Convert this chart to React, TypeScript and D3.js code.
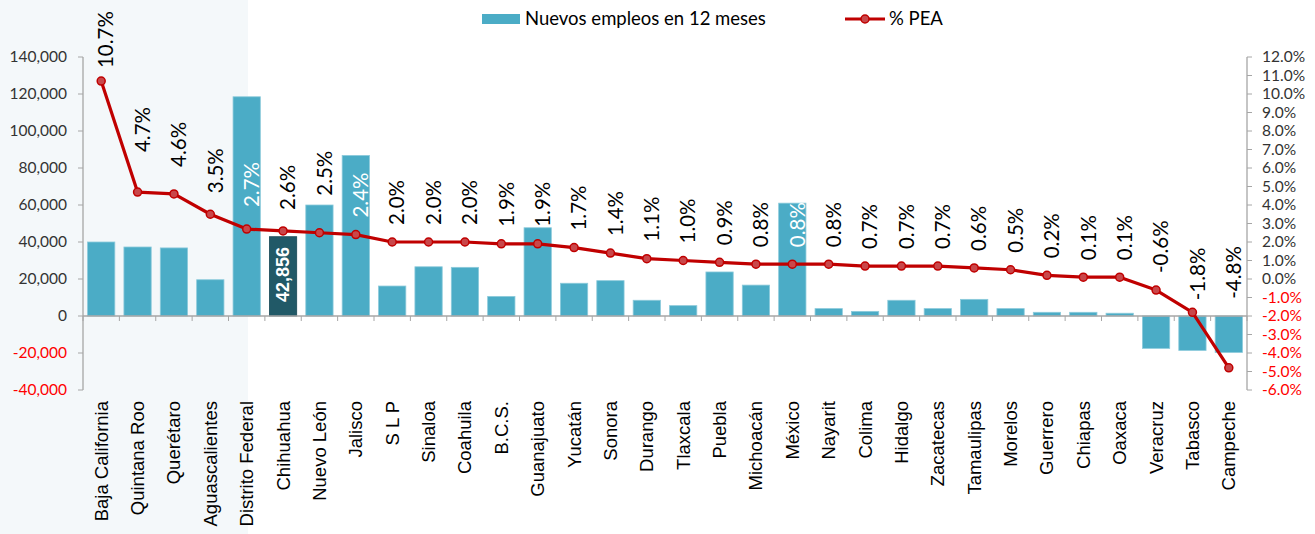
import React from "react";
import * as d3 from "d3";

const categories = [
  "Baja California", "Quintana Roo", "Querétaro", "Aguascalientes", "Distrito Federal",
  "Chihuahua", "Nuevo León", "Jalisco", "S L P", "Sinaloa", "Coahuila", "B.C.S.",
  "Guanajuato", "Yucatán", "Sonora", "Durango", "Tlaxcala", "Puebla", "Michoacán",
  "México", "Nayarit", "Colima", "Hidalgo", "Zacatecas", "Tamaulipas", "Morelos",
  "Guerrero", "Chiapas", "Oaxaca", "Veracruz", "Tabasco", "Campeche"
];

// Nuevos empleos en 12 meses
const empleos = [
  40000, 37300, 36800, 19600, 118500, 42856, 60000, 86800, 16200, 26600, 26300, 10600,
  47700, 17700, 19100, 8500, 5600, 23800, 16700, 61000, 4000, 2500, 8500, 4000,
  9000, 4000, 2000, 2000, 1500, -17500, -18600, -19700
];

// % PEA
const pea = [
  10.7, 4.7, 4.6, 3.5, 2.7, 2.6, 2.5, 2.4, 2.0, 2.0, 2.0, 1.9, 1.9, 1.7, 1.4, 1.1,
  1.0, 0.9, 0.8, 0.8, 0.8, 0.7, 0.7, 0.7, 0.6, 0.5, 0.2, 0.1, 0.1, -0.6, -1.8, -4.8
];

const leftTicks = [-40000, -20000, 0, 20000, 40000, 60000, 80000, 100000, 120000, 140000];
const rightTicks = [-6, -5, -4, -3, -2, -1, 0, 1, 2, 3, 4, 5, 6, 7, 8, 9, 10, 11, 12];
const seriesNames = ["Nuevos empleos en 12 meses", "% PEA"];
const highlighted = "Chihuahua";

// extra lift for a few labels that were nudged by hand in the original
const labelLift: Record<string, number> = {
  "Baja California": -4,
  "Quintana Roo": 23,
  "Querétaro": 10,
  "Aguascalientes": 4,
  "Distrito Federal": 5,
  "Chihuahua": 4,
  "Nuevo León": 20,
  "Tabasco": -5,
  "Campeche": 52
};

const W = 1315;
const H = 534;
const barColor = "#4bacc6";
const darkBar = "#215967";
const lineColor = "#c00000";
const axisColor = "#a6a6a6";
const labelFont = "Lato, 'Open Sans', sans-serif";
const catFont = "'Liberation Sans', Arial, sans-serif";

const loc = d3.formatLocale({
  decimal: ".",
  thousands: ",",
  grouping: [3],
  currency: ["$", ""],
  minus: "-"
});
const fmtNum = loc.format(",");
const fmtPct = (v: number) => loc.format(".1f")(v) + "%";

export default function App() {
  const x = d3
    .scaleBand<string>()
    .domain(categories)
    .range([83, 1247])
    .paddingInner(0.25)
    .paddingOuter(0.125);
  const yL = d3.scaleLinear().domain([-40000, 140000]).range([390, 57]);
  const yR = d3.scaleLinear().domain([-6, 12]).range([390, 57]);
  const cx = (c: string) => (x(c) as number) + x.bandwidth() / 2;

  const line = d3
    .line<number>()
    .x((_, i) => cx(categories[i]))
    .y(d => yR(d));

  const step = x.step();
  const boundaries = d3.range(categories.length + 1).map(i => 83 + i * step);

  return (
    <svg
      width={W}
      height={H}
      style={{ position: "absolute", left: 0, top: 0, display: "block", background: "#fff" }}
    >
      <rect x={0} y={0} width={248} height={H} fill="#f4f8fa" />

      {/* bars */}
      {categories.map((c, i) => {
        const v = empleos[i];
        const y0 = yL(0);
        const y1 = yL(v);
        return (
          <rect
            key={c}
            x={x(c)}
            y={Math.min(y0, y1)}
            width={x.bandwidth()}
            height={Math.abs(y1 - y0)}
            fill={c === highlighted ? darkBar : barColor}
            stroke={c === highlighted ? "#1a4a56" : "#8ccadb"}
            strokeWidth={0.8}
          />
        );
      })}

      {/* value inside highlighted bar */}
      {categories.map((c, i) =>
        c === highlighted ? (
          <text
            key={"v" + c}
            transform={`translate(${cx(c)},${yL(0) - 14}) rotate(-90)`}
            dy="0.35em"
            fill="#fff"
            fontWeight="bold"
            fontSize={18}
            fontFamily={catFont}
          >
            {fmtNum(empleos[i])}
          </text>
        ) : null
      )}

      {/* zero line and x ticks */}
      <line x1={83} x2={1247} y1={yL(0)} y2={yL(0)} stroke={axisColor} strokeWidth={1.3} />
      {boundaries.map((b, i) => (
        <line key={"xt" + i} x1={b} x2={b} y1={yL(0)} y2={yL(0) + 5} stroke={axisColor} />
      ))}

      {/* left axis */}
      <line x1={83} x2={83} y1={57} y2={390} stroke={axisColor} strokeWidth={1.3} />
      {leftTicks.map(t => (
        <g key={"lt" + t}>
          <line x1={78} x2={83} y1={yL(t)} y2={yL(t)} stroke={axisColor} />
          <text
            x={67}
            y={yL(t)}
            dy="0.35em"
            textAnchor="end"
            fontSize={15.5}
            fontFamily={labelFont}
            fill={t < 0 ? "#ff0000" : "#333"}
          >
            {fmtNum(t)}
          </text>
        </g>
      ))}

      {/* right axis */}
      <line x1={1247} x2={1247} y1={57} y2={390} stroke={axisColor} strokeWidth={1.3} />
      {rightTicks.map(t => (
        <g key={"rt" + t}>
          <line x1={1247} x2={1252} y1={yR(t)} y2={yR(t)} stroke={axisColor} />
          <text
            x={1262}
            y={yR(t)}
            dy="0.35em"
            fontSize={15.5}
            fontFamily={labelFont}
            fill={t < 0 ? "#ff0000" : "#333"}
          >
            {fmtPct(t)}
          </text>
        </g>
      ))}

      {/* PEA line */}
      <path d={line(pea) || ""} fill="none" stroke={lineColor} strokeWidth={3.2} strokeLinejoin="round" />
      {pea.map((v, i) => (
        <circle
          key={"m" + i}
          cx={cx(categories[i])}
          cy={yR(v)}
          r={4}
          fill="#c9474a"
          stroke={lineColor}
          strokeWidth={1.5}
        />
      ))}

      {/* PEA labels */}
      {pea.map((v, i) => {
        const c = categories[i];
        const start = yR(v) - 17 - (labelLift[c] || 0);
        const mid = start - 22;
        const inside = empleos[i] > 0 && yL(empleos[i]) < mid && c !== highlighted;
        return (
          <text
            key={"l" + i}
            transform={`translate(${cx(c) + 5},${start}) rotate(-90)`}
            dy="0.35em"
            fontSize={20.5}
            fontFamily={labelFont}
            fill={inside ? "#fff" : "#000"}
          >
            {fmtPct(v)}
          </text>
        );
      })}

      {/* category labels */}
      {categories.map(c => (
        <text
          key={"c" + c}
          transform={`translate(${cx(c)},401) rotate(-90)`}
          dy="0.35em"
          textAnchor="end"
          fontSize={18.5}
          fontFamily={catFont}
          fill="#000"
        >
          {c}
        </text>
      ))}

      {/* legend */}
      <rect x={482} y={14} width={38} height={10} fill={barColor} />
      <text x={525} y={19} dy="0.35em" fontSize={18.5} fontFamily={labelFont} fill="#000">
        {seriesNames[0]}
      </text>
      <line x1={845} x2={885} y1={19} y2={19} stroke={lineColor} strokeWidth={3.2} />
      <circle cx={865} cy={19} r={4} fill="#c9474a" stroke={lineColor} strokeWidth={1.5} />
      <text x={889} y={19} dy="0.35em" fontSize={18.5} fontFamily={labelFont} fill="#000">
        {seriesNames[1]}
      </text>
    </svg>
  );
}
